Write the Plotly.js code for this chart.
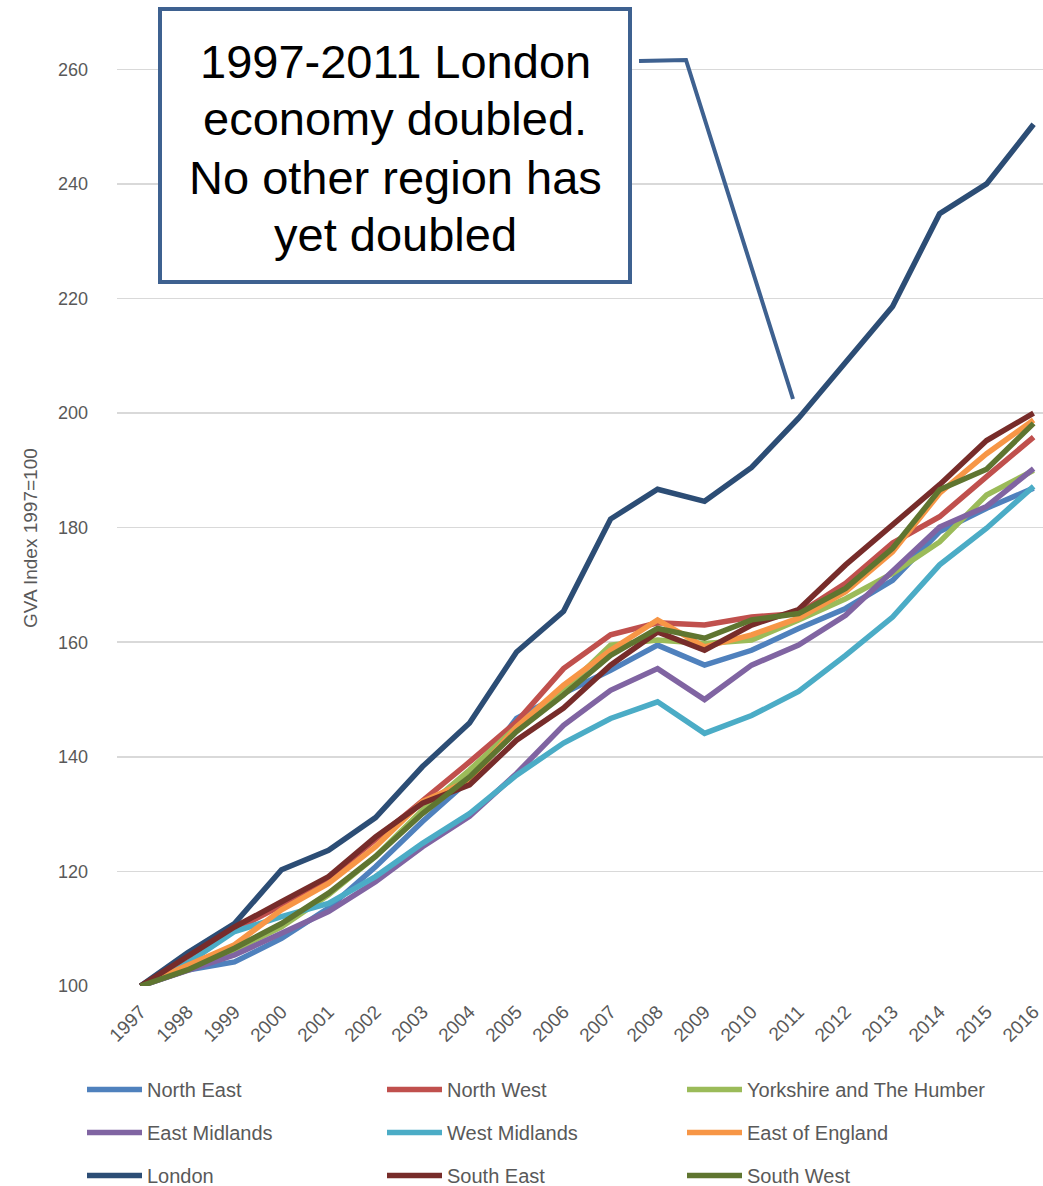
<!DOCTYPE html>
<html>
<head>
<meta charset="utf-8">
<script src="https://cdn.plot.ly/plotly-3.0.1.min.js"></script>
<style>html,body{margin:0;padding:0;background:#fff;}#chart{width:1043px;height:1186px;}</style>
</head>
<body>
<div id="chart"></div>
<script>
// ---- data ----
const years = [1997,1998,1999,2000,2001,2002,2003,2004,2005,2006,2007,2008,2009,2010,2011,2012,2013,2014,2015,2016];
const yTicks = [100,120,140,160,180,200,220,240,260];
const regions = ['North East','North West','Yorkshire and The Humber','East Midlands','West Midlands','East of England','London','South East','South West'];
const northEast     = [100,102.8,104.2,108.3,113.6,120.8,128.7,136.0,146.7,151.1,155.1,159.5,156.0,158.6,162.4,165.9,170.8,179.3,183.4,186.9];
const northWest     = [100,104.0,109.8,114.1,118.8,125.5,132.5,139.1,146.1,155.4,161.3,163.4,163.0,164.4,165.0,170.3,177.3,181.9,188.9,195.8];
const yorkshire     = [100,102.8,106.3,110.3,115.9,122.6,130.7,137.7,145.2,151.6,159.5,160.4,159.8,160.4,163.9,167.6,172.0,177.5,185.7,190.0];
const eastMidlands  = [100,102.8,105.4,109.2,113.0,118.2,124.3,129.6,137.1,145.5,151.6,155.4,150.0,156.0,159.5,164.7,172.4,180.1,183.7,190.3];
const westMidlands  = [100,104.0,109.5,112.1,114.4,119.1,124.9,130.1,136.8,142.4,146.7,149.6,144.1,147.2,151.4,157.7,164.4,173.5,179.9,187.2];
const eastOfEngland = [100,103.5,107.2,113.3,117.9,124.3,132.2,135.9,145.2,152.5,158.6,163.9,159.2,161.3,164.2,168.8,175.8,186.0,192.9,198.8];
const london        = [100,105.8,110.9,120.3,123.7,129.4,138.3,145.9,158.3,165.4,181.5,186.7,184.6,190.5,199.1,209.0,218.6,234.8,240.0,250.4];
const southEast     = [100,105.1,110.3,114.7,119.1,126.0,131.9,135.1,142.9,148.5,156.0,161.8,158.6,163.0,165.7,173.5,180.5,187.5,195.2,200.0];
const southWest     = [100,102.8,106.6,110.9,116.2,122.6,130.1,136.5,144.4,150.8,157.7,162.4,160.7,163.9,165.0,169.4,176.4,186.6,190.2,198.2];
const calloutLines = ['1997-2011 London','economy doubled.','No other region has','yet doubled'];
const yTitle = 'GVA Index 1997=100';

// ---- styling ----
const seriesValues = [northEast,northWest,yorkshire,eastMidlands,westMidlands,eastOfEngland,london,southEast,southWest];
const colors = ['#4f81bd','#c0504d','#9bbb59','#8064a2','#4bacc6','#f79646','#2c4d75','#772c2a','#5f7530'];
// legend laid out as three vertical columns
const legendIds = ['legend','legend2','legend3','legend','legend2','legend3','legend','legend2','legend3'];
const FONT = '"Liberation Sans", Arial, sans-serif';
const GREY = '#595959';
const BOX = '#3e6190';

// plot area geometry (px)
const L = 117, T = 12, B = 986, W = 1043 - L, H = B - T;
const px = x => (x - L) / W;
const py = y => (B - y) / H;

const traces = regions.map((name, i) => ({
  type: 'scatter', mode: 'lines', name: name,
  x: years, y: seriesValues[i],
  line: {color: colors[i], width: 5.5},
  legend: legendIds[i], legendgroup: 'g' + i
}));

const legendBase = {
  orientation: 'v', xanchor: 'left', yanchor: 'top', traceorder: 'grouped', tracegroupgap: 14,
  font: {family: FONT, size: 20, color: GREY},
  bgcolor: 'rgba(0,0,0,0)', borderwidth: 0, itemwidth: 55,
  itemclick: false, itemdoubleclick: false
};

const annotations = calloutLines.map((t, i) => ({
  xref: 'paper', yref: 'paper', x: px(395), y: py([61, 119, 177, 234][i]),
  xanchor: 'center', yanchor: 'middle', showarrow: false,
  text: t, font: {family: FONT, size: 47, color: '#000000'}
}));
annotations.push({
  xref: 'paper', yref: 'paper', x: px(30), y: py(538), xanchor: 'center', yanchor: 'middle',
  showarrow: false, textangle: -90, text: yTitle,
  font: {family: FONT, size: 19, color: GREY}
});

const shapes = [
  {type: 'rect', xref: 'paper', yref: 'paper', x0: px(160), x1: px(630), y0: py(282), y1: py(9),
   line: {color: BOX, width: 4}, fillcolor: '#ffffff', layer: 'above'},
  {type: 'path', xref: 'paper', yref: 'paper', layer: 'above',
   path: `M ${px(639)} ${py(61)} L ${px(686)} ${py(60)} L ${px(793)} ${py(399)}`,
   line: {color: BOX, width: 4}}
];

const layout = {
  width: 1043, height: 1186,
  margin: {l: L, r: 0, t: T, b: 1186 - B, pad: 0, autoexpand: false},
  paper_bgcolor: '#ffffff', plot_bgcolor: '#ffffff',
  font: {family: FONT, color: GREY},
  showlegend: true,
  hovermode: false,
  xaxis: {
    range: [1996.5, 2016.2], tickvals: years, ticktext: years.map(String),
    tickangle: -45, ticks: '', ticklabelstandoff: 10, ticklabeloverflow: 'allow',
    showgrid: false, zeroline: false, showline: false, automargin: false,
    tickfont: {family: FONT, size: 19, color: GREY}
  },
  yaxis: {
    range: [100, 270], tickvals: yTicks, ticks: '', ticklabelstandoff: 28,
    showgrid: true, gridcolor: '#d9d9d9', gridwidth: 1.5,
    zeroline: false, showline: false, automargin: false,
    tickfont: {family: FONT, size: 18, color: GREY}
  },
  legend:  Object.assign({}, legendBase, {x: px(82),  y: py(1070)}),
  legend2: Object.assign({}, legendBase, {x: px(382), y: py(1070)}),
  legend3: Object.assign({}, legendBase, {x: px(682), y: py(1070)}),
  annotations: annotations,
  shapes: shapes
};

Plotly.newPlot('chart', traces, layout, {displayModeBar: false, staticPlot: true});
</script>
</body>
</html>
